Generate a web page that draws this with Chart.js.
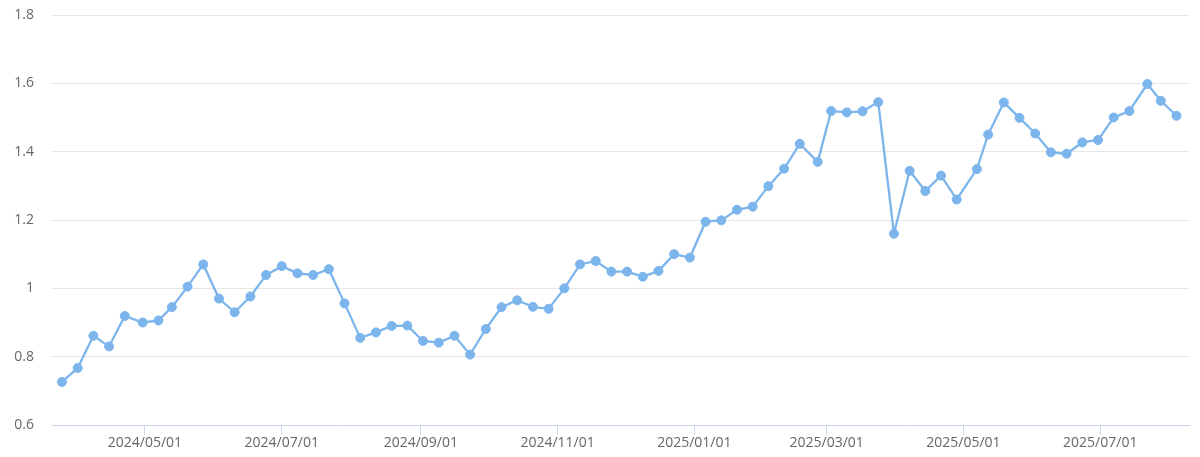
<!DOCTYPE html>
<html>
<head>
<meta charset="utf-8">
<script src="https://cdn.jsdelivr.net/npm/chart.js@4/dist/chart.umd.min.js"></script>
<style>
  html, body { margin: 0; padding: 0; background: #ffffff; }
  #wrap { width: 1200px; height: 457px; }
</style>
</head>
<body>
<div id="wrap"><canvas id="c" width="1200" height="457"></canvas></div>
<script>
const dates = [
  '2024-03-25','2024-04-01','2024-04-08','2024-04-15','2024-04-22','2024-04-30','2024-05-07','2024-05-13',
  '2024-05-20','2024-05-27','2024-06-03','2024-06-10','2024-06-17','2024-06-24','2024-07-01','2024-07-08',
  '2024-07-15','2024-07-22','2024-07-29','2024-08-05','2024-08-12','2024-08-19','2024-08-26','2024-09-02',
  '2024-09-09','2024-09-16','2024-09-23','2024-09-30','2024-10-07','2024-10-14','2024-10-21','2024-10-28',
  '2024-11-04','2024-11-11','2024-11-18','2024-11-25','2024-12-02','2024-12-09','2024-12-16','2024-12-23',
  '2024-12-30','2025-01-06','2025-01-13','2025-01-20','2025-01-27','2025-02-03','2025-02-10','2025-02-17',
  '2025-02-25','2025-03-03','2025-03-10','2025-03-17','2025-03-24','2025-03-31','2025-04-07','2025-04-14',
  '2025-04-21','2025-04-28','2025-05-07','2025-05-12','2025-05-19','2025-05-26','2025-06-02','2025-06-09',
  '2025-06-16','2025-06-23','2025-06-30','2025-07-07','2025-07-14','2025-07-22','2025-07-28','2025-08-04'
];
const values = [
  0.726, 0.767, 0.861, 0.830, 0.919, 0.900, 0.906, 0.945,
  1.005, 1.070, 0.970, 0.930, 0.976, 1.039, 1.065, 1.044,
  1.039, 1.056, 0.956, 0.855, 0.871, 0.890, 0.891, 0.846,
  0.841, 0.861, 0.806, 0.881, 0.945, 0.965, 0.946, 0.940,
  1.000, 1.070, 1.080, 1.049, 1.049, 1.034, 1.051, 1.100,
  1.090, 1.195, 1.199, 1.230, 1.239, 1.299, 1.350, 1.423,
  1.370, 1.519, 1.515, 1.518, 1.545, 1.160, 1.344, 1.285,
  1.330, 1.260, 1.349, 1.450, 1.544, 1.499, 1.453, 1.398,
  1.394, 1.427, 1.434, 1.500, 1.519, 1.598, 1.549, 1.505
];
const tickDates = ['2024-05-01','2024-07-01','2024-09-01','2024-11-01','2025-01-01','2025-03-01','2025-05-01','2025-07-01'];
const tickLabels = ['2024/05/01','2024/07/01','2024/09/01','2024/11/01','2025/01/01','2025/03/01','2025/05/01','2025/07/01'];
const yTickValues = [0.6, 0.8, 1, 1.2, 1.4, 1.6, 1.8];
const yTickLabels = ['0.6', '0.8', '1', '1.2', '1.4', '1.6', '1.8'];
const xRange = ['2024-03-20T13:00:00Z', '2025-08-09T14:00:00Z'];

const points = dates.map((d, i) => ({ x: Date.parse(d), y: values[i] }));
const tickValues = tickDates.map(d => Date.parse(d));

Chart.defaults.font.family = '"Open Sans", "DejaVu Sans", sans-serif';
Chart.defaults.font.size = 14;
Chart.defaults.color = '#666666';

new Chart(document.getElementById('c'), {
  type: 'line',
  data: {
    datasets: [{
      data: points,
      borderColor: '#7cb5ec',
      backgroundColor: '#7cb5ec',
      borderWidth: 2.3,
      pointRadius: 4.5,
      pointBorderWidth: 1,
      pointBorderColor: '#7cb5ec',
      pointBackgroundColor: '#7cb5ec',
      tension: 0,
      fill: false
    }]
  },
  options: {
    responsive: false,
    animation: false,
    devicePixelRatio: 1,
    layout: { padding: { top: 15, right: 11, left: 0, bottom: 0 } },
    plugins: { legend: { display: false }, tooltip: { enabled: false }, title: { display: false } },
    scales: {
      x: {
        type: 'linear',
        min: Date.parse(xRange[0]),
        max: Date.parse(xRange[1]),
        afterBuildTicks: (scale) => { scale.ticks = tickValues.map(v => ({ value: v })); },
        afterFit: (scale) => { scale.height = 32; scale.paddingLeft = 0; scale.paddingRight = 0; },
        ticks: {
          autoSkip: false,
          maxRotation: 0,
          padding: 0,
          callback: (value, index) => tickLabels[index]
        },
        grid: {
          display: true,
          drawOnChartArea: false,
          drawTicks: true,
          tickLength: 10,
          tickColor: '#ccd6eb',
          color: '#ccd6eb'
        },
        border: { display: true, color: '#ccd6eb', width: 1 }
      },
      y: {
        min: yTickValues[0],
        max: yTickValues[yTickValues.length - 1],
        afterBuildTicks: (scale) => { scale.ticks = yTickValues.map(v => ({ value: v })); },
        afterFit: (scale) => { scale.width = 52; scale.paddingTop = 0; scale.paddingBottom = 0; },
        ticks: { padding: 18, callback: (value, index) => yTickLabels[index] },
        grid: { color: '#e6e6e6', drawTicks: false, lineWidth: 1 },
        border: { display: false }
      }
    }
  }
});
</script>
</body>
</html>
